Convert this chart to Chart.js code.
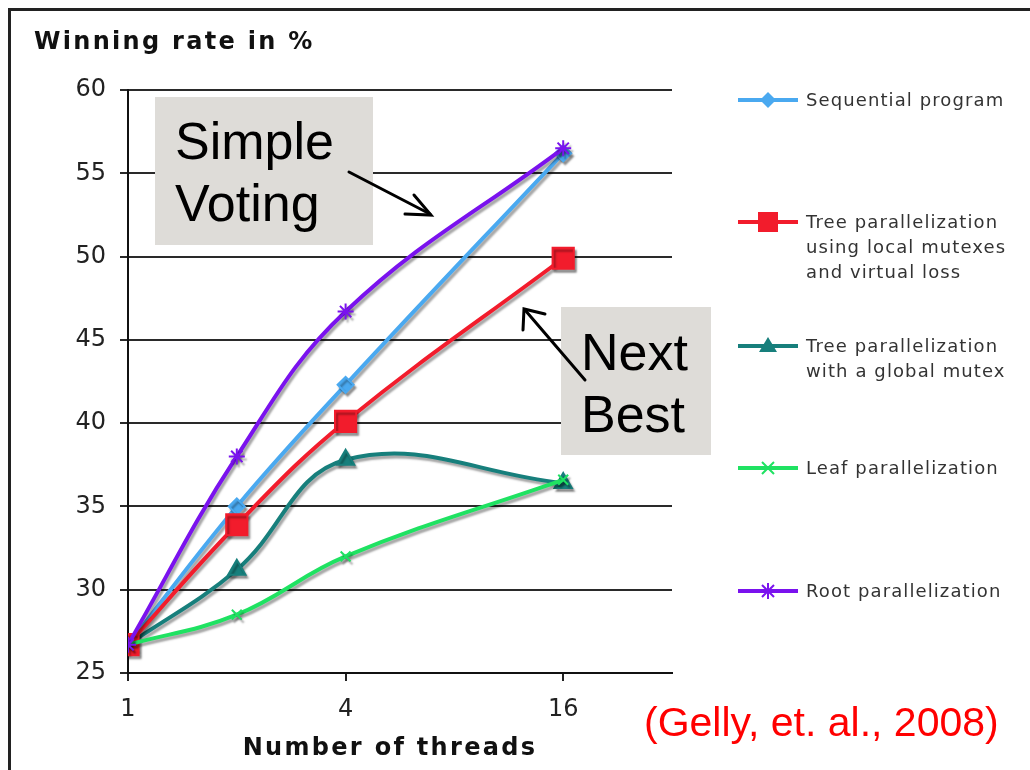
<!DOCTYPE html>
<html>
<head>
<meta charset="utf-8">
<script src="https://cdn.jsdelivr.net/npm/chart.js@4"></script>
<style>
  body { margin: 0; background: #fff; width: 1030px; height: 770px; overflow: hidden; position: relative; }
  #frame { position: absolute; left: 8px; top: 8px; width: 1100px; height: 900px; border-top: 3px solid #222; border-left: 3px solid #222; }
  canvas { position: absolute; left: 0; top: 0; }
  .ytitle { position: absolute; left: 34px; top: 27px; font: bold 24px "DejaVu Sans", sans-serif; letter-spacing: 2.3px; color: #111; }
  .xtitle { position: absolute; left: 190px; width: 400px; top: 733px; text-align: center; font: bold 24px "DejaVu Sans", sans-serif; letter-spacing: 2.3px; color: #111; }
  .note { position: absolute; background: #dedcd8; font: 52px "Liberation Sans", Arial, sans-serif; line-height: 62px; color: #000; box-sizing: border-box; padding-left: 20px; }
  .leg { position: absolute; left: 738px; }
  .leg svg { position: absolute; left: 0; }
  .leg div { position: absolute; left: 68px; white-space: nowrap; font: 18px "DejaVu Sans", sans-serif; letter-spacing: 1.1px; line-height: 25px; color: #333; }
  .cite { position: absolute; left: 644px; top: 699px; font: 41px "Liberation Sans", Arial, sans-serif; color: #f00; }
  #arrows { position: absolute; left: 0; top: 0; }
</style>
</head>
<body>
<div id="frame"></div>
<canvas id="winChart" width="1030" height="770"></canvas>
<div class="ytitle">Winning rate in %</div>
<div class="xtitle">Number of threads</div>
<div class="note" style="left:155px; top:97px; width:218px; height:148px; padding-top:13px;">Simple<br>Voting</div>
<div class="note" style="left:561px; top:307px; width:150px; height:148px; padding-top:14px;">Next<br>Best</div>
<svg id="arrows" width="1030" height="770">
  <g stroke="#000" stroke-width="3" fill="none" stroke-linecap="round">
    <line x1="349" y1="172" x2="430" y2="214" />
    <polyline points="414,195 431,215 405,214" />
    <line x1="585" y1="380" x2="525" y2="310" />
    <polyline points="523,330 524,309 545,314" />
  </g>
</svg>
<div id="legend"></div>
<div class="cite">(Gelly, et. al., 2008)</div>

<script>
  const threads = [1, 2, 4, 16];
  const xTickValues = [1, 4, 16];

  const sequential = [26.7, 35.0, 42.3, 56.2];
  const treeLocal = [26.7, 33.9, 40.1, 49.9];
  const treeGlobal = [26.7, 31.2, 37.8, 36.4];
  const leaf = [26.7, 28.5, 32.0, 36.6];
  const root = [26.7, 38.0, 46.7, 56.5];

  const seriesLabels = [
    ["Sequential program"],
    ["Tree parallelization", "using local mutexes", "and virtual loss"],
    ["Tree parallelization", "with a global mutex"],
    ["Leaf parallelization"],
    ["Root parallelization"],
  ];
  const seriesColors = ["#4aa9f0", "#f21c2c", "#177f7c", "#1fe262", "#7a12ee"];
  const legendCenters = [100, 222, 346, 468, 591];

  const toPoints = (vals) => vals.map((v, i) => ({ x: threads[i], y: v }));

  const makeSet = (idx, vals, style, radius, order) => ({
    label: seriesLabels[idx].join(" "),
    data: toPoints(vals),
    borderColor: seriesColors[idx],
    backgroundColor: seriesColors[idx],
    pointBorderColor: seriesColors[idx],
    pointBackgroundColor: seriesColors[idx],
    borderWidth: 4,
    pointStyle: style,
    pointRadius: radius,
    pointBorderWidth: 2,
    tension: 0.4,
    order: order,
  });

  const shadowPlugin = {
    id: "shadow",
    beforeDatasetsDraw(chart) {
      const c = chart.ctx;
      c.save();
      c.shadowColor = "rgba(0,0,0,0.35)";
      c.shadowOffsetX = 2;
      c.shadowOffsetY = 3;
      c.shadowBlur = 2;
    },
    afterDatasetsDraw(chart) {
      chart.ctx.restore();
    },
  };

  new Chart(document.getElementById("winChart"), {
    type: "line",
    data: {
      datasets: [
        makeSet(0, sequential, "rectRot", 8, 3),
        makeSet(1, treeLocal, "rect", 15, 2),
        makeSet(2, treeGlobal, "triangle", 10, 4),
        makeSet(3, leaf, "crossRot", 7, 1),
        makeSet(4, root, "star", 8, 0),
      ],
    },
    options: {
      responsive: false,
      animation: false,
      layout: { padding: { left: 0, right: 358, top: 90, bottom: 0 } },
      plugins: { legend: { display: false }, tooltip: { enabled: false } },
      scales: {
        x: {
          type: "logarithmic",
          min: 1,
          max: 32,
          afterBuildTicks: (scale) => {
            scale.ticks = xTickValues.map((v) => ({ value: v }));
          },
          afterFit: (scale) => { scale.height = 97; },
          ticks: {
            callback: (v) => String(v),
            font: { family: "DejaVu Sans", size: 24 },
            color: "#222",
            padding: 14,
            maxRotation: 0,
          },
          grid: { drawOnChartArea: false, drawTicks: true, tickLength: 8, color: "#222", lineWidth: 2 },
          border: { color: "#111", width: 2 },
        },
        y: {
          min: 25,
          max: 60,
          afterFit: (scale) => { scale.width = 128; },
          ticks: {
            stepSize: 5,
            font: { family: "DejaVu Sans", size: 24 },
            color: "#222",
            padding: 14,
          },
          grid: { color: "#2a2a2a", lineWidth: 2, tickLength: 8 },
          border: { color: "#111", width: 2 },
        },
      },
    },
    plugins: [shadowPlugin],
  });

  // legend on the right
  const markerSvg = (idx) => {
    const c = seriesColors[idx];
    const cx = 30, cy = 12;
    let m = "";
    if (idx === 0) m = `<polygon points="${cx},${cy - 8} ${cx + 8},${cy} ${cx},${cy + 8} ${cx - 8},${cy}" fill="${c}"/>`;
    if (idx === 1) m = `<rect x="${cx - 10}" y="${cy - 10}" width="20" height="20" fill="${c}"/>`;
    if (idx === 2) m = `<polygon points="${cx},${cy - 9} ${cx + 9},${cy + 6} ${cx - 9},${cy + 6}" fill="${c}"/>`;
    if (idx === 3) m = `<path d="M${cx - 6},${cy - 6}L${cx + 6},${cy + 6}M${cx + 6},${cy - 6}L${cx - 6},${cy + 6}" stroke="${c}" stroke-width="2"/>`;
    if (idx === 4) m = `<path d="M${cx - 6},${cy - 6}L${cx + 6},${cy + 6}M${cx + 6},${cy - 6}L${cx - 6},${cy + 6}M${cx},${cy - 8}L${cx},${cy + 8}" stroke="${c}" stroke-width="2"/>`;
    return `<svg width="60" height="24" style="top:-12px"><line x1="0" y1="12" x2="60" y2="12" stroke="${c}" stroke-width="4"/>${m}</svg>`;
  };

  const legendEl = document.getElementById("legend");
  seriesLabels.forEach((lines, i) => {
    const item = document.createElement("div");
    item.className = "leg";
    item.style.top = legendCenters[i] + "px";
    item.innerHTML = markerSvg(i) + `<div style="top:-13px">${lines.join("<br>")}</div>`;
    legendEl.appendChild(item);
  });
</script>
</body>
</html>
